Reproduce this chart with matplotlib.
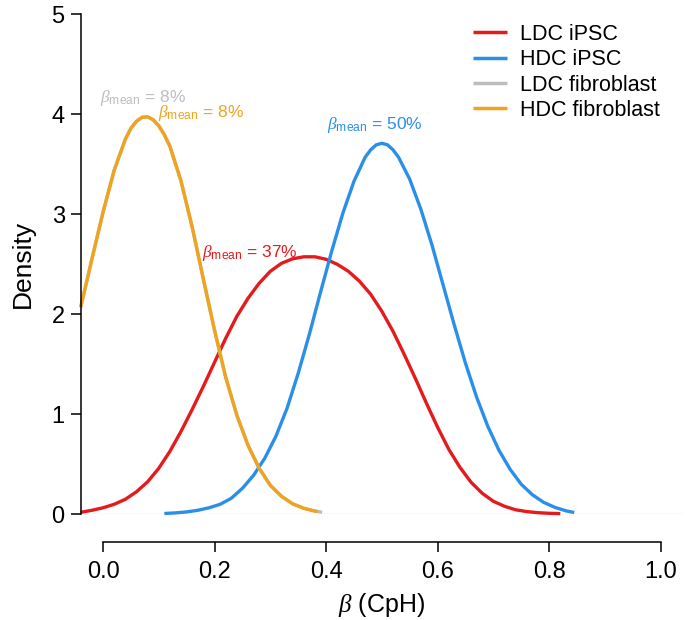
import matplotlib
matplotlib.use("Agg")
import matplotlib.pyplot as plt

plt.rcParams['font.family'] = ['Liberation Sans', 'DejaVu Sans']
plt.rcParams['mathtext.fontset'] = 'custom'
plt.rcParams['mathtext.rm'] = 'Liberation Sans'
plt.rcParams['mathtext.it'] = 'Liberation Serif:italic'
plt.rcParams['mathtext.bf'] = 'Liberation Sans:bold'

# ---- data ----
ldc_ipsc_x = [-0.04, -0.02, 0.0, 0.02, 0.04, 0.06, 0.08, 0.10, 0.12, 0.14, 0.16, 0.18,
              0.20, 0.22, 0.24, 0.26, 0.28, 0.30, 0.32, 0.34, 0.36, 0.38, 0.40, 0.42,
              0.44, 0.46, 0.48, 0.50, 0.52, 0.54, 0.56, 0.58, 0.60, 0.62, 0.64, 0.66,
              0.68, 0.70, 0.72, 0.74, 0.76, 0.78, 0.80, 0.82]
ldc_ipsc_y = [0.02, 0.04, 0.065, 0.10, 0.15, 0.225, 0.325, 0.46, 0.63, 0.83, 1.05, 1.28,
              1.52, 1.76, 1.98, 2.16, 2.31, 2.43, 2.51, 2.555, 2.575, 2.575, 2.55, 2.50,
              2.43, 2.33, 2.20, 2.03, 1.83, 1.60, 1.36, 1.11, 0.87, 0.65, 0.47, 0.32,
              0.21, 0.13, 0.08, 0.045, 0.027, 0.016, 0.01, 0.007]

hdc_ipsc_x = [0.11, 0.13, 0.15, 0.17, 0.19, 0.21, 0.23, 0.25, 0.27, 0.29, 0.31, 0.33,
              0.35, 0.37, 0.39, 0.41, 0.43, 0.45, 0.47, 0.48, 0.49, 0.50, 0.51, 0.52,
              0.53, 0.55, 0.57, 0.59, 0.61, 0.63, 0.65, 0.67, 0.69, 0.71, 0.73, 0.75,
              0.77, 0.79, 0.81, 0.83, 0.845]
hdc_ipsc_y = [0.008, 0.014, 0.024, 0.04, 0.065, 0.10, 0.16, 0.26, 0.39, 0.56, 0.78, 1.06,
              1.41, 1.80, 2.22, 2.63, 3.01, 3.33, 3.57, 3.645, 3.695, 3.71, 3.695, 3.645,
              3.57, 3.35, 3.05, 2.69, 2.29, 1.89, 1.51, 1.17, 0.88, 0.64, 0.45, 0.30,
              0.195, 0.12, 0.07, 0.035, 0.018]

ldc_fib_x = [-0.04, -0.02, 0.0, 0.02, 0.04, 0.05, 0.06, 0.07, 0.08, 0.09, 0.10, 0.11,
             0.12, 0.14, 0.16, 0.18, 0.20, 0.22, 0.24, 0.26, 0.28, 0.30, 0.32, 0.34,
             0.36, 0.38, 0.393]
ldc_fib_y = [2.07, 2.55, 3.02, 3.44, 3.75, 3.86, 3.93, 3.97, 3.975, 3.945, 3.885, 3.795,
             3.68, 3.33, 2.87, 2.35, 1.84, 1.37, 0.99, 0.69, 0.46, 0.29, 0.18, 0.105,
             0.06, 0.032, 0.02]

hdc_fib_x = [-0.04, -0.02, 0.0, 0.02, 0.04, 0.05, 0.06, 0.07, 0.08, 0.09, 0.10, 0.11,
             0.12, 0.14, 0.16, 0.18, 0.20, 0.22, 0.24, 0.26, 0.28, 0.30, 0.32, 0.34,
             0.36, 0.38, 0.385]
hdc_fib_y = [2.07, 2.55, 3.02, 3.44, 3.75, 3.86, 3.93, 3.97, 3.975, 3.945, 3.885, 3.795,
             3.68, 3.33, 2.87, 2.35, 1.84, 1.37, 0.99, 0.69, 0.46, 0.29, 0.18, 0.105,
             0.06, 0.032, 0.027]

series_names = ["LDC iPSC", "HDC iPSC", "LDC fibroblast", "HDC fibroblast"]
series_colors = ["#E41A1C", "#2A8FE8", "#BDBDBD", "#EFA31E"]
mean_labels = ["37%", "50%", "8%", "8%"]
label_pos = [(0.178, 2.57), (0.401, 3.85), (-0.005, 4.12), (0.099, 3.97)]

x_ticks = [0.0, 0.2, 0.4, 0.6, 0.8, 1.0]
x_tick_labels = ["0.0", "0.2", "0.4", "0.6", "0.8", "1.0"]
y_ticks = [0, 1, 2, 3, 4, 5]

# ---- figure ----
fig = plt.figure(figsize=(6.85, 6.2), dpi=100)
ax = fig.add_axes([80.7 / 685, (620 - 514.3) / 620, (683 - 80.7) / 685, (514.3 - 14.3) / 620])

ax.axhline(0, color="#E3E3E3", lw=1.0, zorder=0)

xs = [ldc_ipsc_x, hdc_ipsc_x, ldc_fib_x, hdc_fib_x]
ys = [ldc_ipsc_y, hdc_ipsc_y, ldc_fib_y, hdc_fib_y]
for x, y, name, c in zip(xs, ys, series_names, series_colors):
    ax.plot(x, y, color=c, lw=2.4, label=name, solid_capstyle="butt",
            solid_joinstyle="round", clip_on=False)

for (px, py), lab, c in zip(label_pos, mean_labels, series_colors):
    ax.text(px, py, r"$\beta_{\mathrm{mean}}$ = " + lab, color=c, fontsize=12.5,
            ha="left", va="baseline")

ax.set_xlim(-0.04, 1.04)
ax.set_ylim(0, 5)

for s in ["top", "right"]:
    ax.spines[s].set_visible(False)
ax.spines["left"].set_bounds(0, 5)
ax.spines["bottom"].set_position(("outward", 20))
ax.spines["bottom"].set_bounds(0, 1)
for s in ["left", "bottom"]:
    ax.spines[s].set_linewidth(1.1)

ax.set_xticks(x_ticks)
ax.set_xticklabels(x_tick_labels)
ax.set_yticks(y_ticks)
ax.tick_params(axis="both", length=7.5, width=1.1, labelsize=17)
ax.tick_params(axis="x", pad=6)
ax.tick_params(axis="y", pad=4)

ax.set_ylabel("Density", fontsize=19, labelpad=12)
ax.set_xlabel(r"$\beta$ (CpH)", fontsize=18, labelpad=6)

leg = fig.legend(loc="upper left", bbox_to_anchor=(473 / 685, 1 - 24 / 620),
                 frameon=False, fontsize=15.5, handlelength=1.6, handletextpad=0.6,
                 labelspacing=0.2, borderpad=0, borderaxespad=0)
for h in leg.legend_handles:
    h.set_linewidth(2.5)

fig.savefig("out.png", dpi=100)
